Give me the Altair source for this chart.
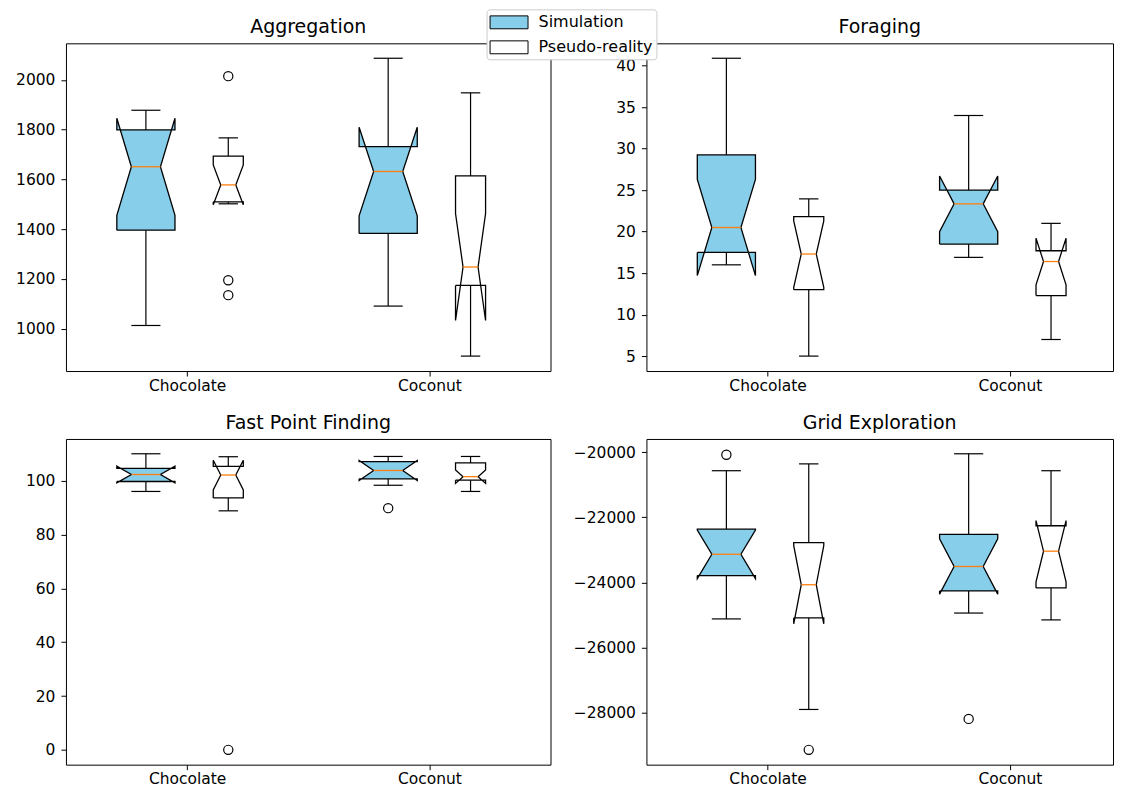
import altair as alt
import pandas as pd

# ---------------- data ----------------
GROUPS = ["Chocolate", "Coconut"]
SERIES = ["Simulation", "Pseudo-reality"]
# box order: Chocolate/Simulation, Chocolate/Pseudo-reality, Coconut/Simulation, Coconut/Pseudo-reality
BOX_GROUP = ["Chocolate", "Chocolate", "Coconut", "Coconut"]
BOX_SERIES = ["Simulation", "Pseudo-reality", "Simulation", "Pseudo-reality"]

# Aggregation
AGG_WLO = [1013, 1502, 1091, 890]
AGG_Q1 = [1396, 1510, 1383, 1174]
AGG_NLO = [1456, 1498, 1454, 1033]
AGG_MED = [1651, 1578, 1632, 1248]
AGG_NHI = [1846, 1658, 1810, 1463]
AGG_Q3 = [1799, 1694, 1732, 1614]
AGG_WHI = [1878, 1767, 2087, 1948]
AGG_FLIER_BOX = [1, 1, 1]
AGG_FLIER_VAL = [2015, 1195, 1135]
AGG_YTICKS = [1000, 1200, 1400, 1600, 1800, 2000]
AGG_YLIM = [830, 2147]

# Foraging
FOR_WLO = [16.0, 5.0, 16.9, 7.0]
FOR_Q1 = [17.5, 13.0, 18.5, 12.3]
FOR_NLO = [14.7, 13.3, 20.0, 13.6]
FOR_MED = [20.5, 17.3, 23.35, 16.4]
FOR_NHI = [26.3, 21.3, 26.7, 19.2]
FOR_Q3 = [29.25, 21.8, 25.0, 17.7]
FOR_WHI = [40.9, 23.95, 34.0, 21.0]
FOR_FLIER_BOX = []
FOR_FLIER_VAL = []
FOR_YTICKS = [5, 10, 15, 20, 25, 30, 35, 40]
FOR_YLIM = [3.2, 42.7]

# Fast Point Finding
FPF_WLO = [96.0, 88.8, 98.3, 96.0]
FPF_Q1 = [99.7, 93.6, 100.7, 100.2]
FPF_NLO = [99.2, 96.6, 100.1, 99.0]
FPF_MED = [102.3, 102.1, 103.8, 101.5]
FPF_NHI = [105.4, 107.6, 107.5, 104.0]
FPF_Q3 = [104.6, 105.3, 107.1, 106.6]
FPF_WHI = [110.0, 108.9, 109.0, 109.0]
FPF_FLIER_BOX = [1, 2]
FPF_FLIER_VAL = [0.0, 89.8]
FPF_YTICKS = [0, 20, 40, 60, 80, 100]
FPF_YLIM = [-5.5, 115.5]

# Grid Exploration
GRID_WLO = [-25120, -27900, -24940, -25150]
GRID_Q1 = [-23790, -25090, -24260, -24170]
GRID_NLO = [-23880, -25270, -24360, -23980]
GRID_MED = [-23135, -24070, -23510, -23040]
GRID_NHI = [-22390, -22870, -22660, -22100]
GRID_Q3 = [-22365, -22780, -22525, -22260]
GRID_WHI = [-20570, -20360, -20050, -20570]
GRID_FLIER_BOX = [0, 1, 2]
GRID_FLIER_VAL = [-20080, -29140, -28190]
GRID_YTICKS = [-28000, -26000, -24000, -22000, -20000]
GRID_YLIM = [-29595, -19595]

# ---------------- style / layout ----------------
FILL_COLORS = ["#87ceeb", "#ffffff"]
MEDIAN_COLOR = "#ff7f0e"
OFFSET = 0.17
HALF_W = {"Simulation": 0.12, "Pseudo-reality": 0.062}
CAP_W = {"Simulation": 0.06, "Pseudo-reality": 0.04}
FONT = "DejaVu Sans"

LEFT_W, RIGHT_W = 485, 467
TOP_H, BOT_H = 328, 326
PX_PER_UNIT = LEFT_W / 2.0
RIGHT_XMAX = 0.5 + RIGHT_W / PX_PER_UNIT

LABEL_EXPR = "[" + ",".join("'%s'" % g for g in GROUPS) + "][datum.value - 1]"


def build_tables(stats, fl_box, fl_val):
    wlo, q1, nlo, med, nhi, q3, whi = stats
    poly, boxes = [], []
    for i in range(len(BOX_GROUP)):
        s = BOX_SERIES[i]
        pos = GROUPS.index(BOX_GROUP[i]) + 1 + (-OFFSET if s == SERIES[0] else OFFSET)
        hw, cw = HALF_W[s], CAP_W[s]
        L, R, CL, CR = pos - hw, pos + hw, pos - hw / 2, pos + hw / 2
        verts = [(L, q1[i]), (R, q1[i]), (R, nlo[i]), (CR, med[i]), (R, nhi[i]),
                 (R, q3[i]), (L, q3[i]), (L, nhi[i]), (CL, med[i]), (L, nlo[i]), (L, q1[i])]
        for k, (x, y) in enumerate(verts):
            poly.append(dict(box=i, k=k, x=x, y=y, series=s))
        boxes.append(dict(box=i, series=s, pos=pos, capL=pos - cw, capR=pos + cw,
                          medL=CL, medR=CR, wlo=wlo[i], q1=q1[i], med=med[i],
                          q3=q3[i], whi=whi[i]))
    fl = [dict(x=boxes[b]["pos"], y=v) for b, v in zip(fl_box, fl_val)]
    return pd.DataFrame(poly), pd.DataFrame(boxes), pd.DataFrame(fl, columns=["x", "y"])


LEGEND = alt.Legend(
    title=None, orient="none", legendX=421, legendY=-34,
    symbolType="M-1,-0.68H3V0.68H-1Z", symbolSize=361,
    symbolStrokeColor="black", symbolStrokeWidth=1, symbolOpacity=1,
    labelFont=FONT, labelFontSize=16, labelColor="black", labelOffset=29,
    rowPadding=6, padding=3, strokeColor="#cccccc", fillColor="white",
    cornerRadius=3,
)


def panel(title, stats, fl_box, fl_val, ylim, yticks, xmax, width, height):
    poly, boxes, fl = build_tables(stats, fl_box, fl_val)
    xs = alt.Scale(domain=[0.5, xmax], nice=False, zero=False)
    ys = alt.Scale(domain=ylim, nice=False, zero=False)
    xax = alt.Axis(values=[1, 2], labelExpr=LABEL_EXPR, title=None, labelPadding=2)
    yax = alt.Axis(values=yticks, format="d", title=None)

    def X(f):
        return alt.X(f, scale=xs, axis=xax)

    def Y(f):
        return alt.Y(f, scale=ys, axis=yax)

    bc = alt.Chart(boxes)
    whisk_lo = bc.mark_rule(color="black", strokeWidth=1.2).encode(x=X("pos:Q"), y=Y("q1:Q"), y2="wlo:Q")
    whisk_hi = bc.mark_rule(color="black", strokeWidth=1.2).encode(x=X("pos:Q"), y=Y("q3:Q"), y2="whi:Q")
    cap_lo = bc.mark_rule(color="black", strokeWidth=1.2).encode(x=X("capL:Q"), x2="capR:Q", y=Y("wlo:Q"))
    cap_hi = bc.mark_rule(color="black", strokeWidth=1.2).encode(x=X("capL:Q"), x2="capR:Q", y=Y("whi:Q"))
    box = alt.Chart(poly).mark_line(stroke="black", strokeWidth=1.3, strokeJoin="miter").encode(
        x=X("x:Q"), y=Y("y:Q"), order="k:Q", detail="box:N",
        fill=alt.Fill("series:N", scale=alt.Scale(domain=SERIES, range=FILL_COLORS), legend=LEGEND),
    )
    median = bc.mark_rule(color=MEDIAN_COLOR, strokeWidth=1.3).encode(x=X("medL:Q"), x2="medR:Q", y=Y("med:Q"))
    layers = [whisk_lo, whisk_hi, cap_lo, cap_hi, box, median]
    if len(fl):
        fliers = alt.Chart(fl).mark_point(shape="circle", filled=False, color="black", size=85,
                                          strokeWidth=1.2, opacity=1).encode(x=X("x:Q"), y=Y("y:Q"))
        layers.append(fliers)
    return alt.layer(*layers).properties(title=title, width=width, height=height)


tl = panel("Aggregation", [AGG_WLO, AGG_Q1, AGG_NLO, AGG_MED, AGG_NHI, AGG_Q3, AGG_WHI],
           AGG_FLIER_BOX, AGG_FLIER_VAL, AGG_YLIM, AGG_YTICKS, 2.5, LEFT_W, TOP_H)
tr = panel("Foraging", [FOR_WLO, FOR_Q1, FOR_NLO, FOR_MED, FOR_NHI, FOR_Q3, FOR_WHI],
           FOR_FLIER_BOX, FOR_FLIER_VAL, FOR_YLIM, FOR_YTICKS, RIGHT_XMAX, RIGHT_W, TOP_H)
bl = panel("Fast Point Finding", [FPF_WLO, FPF_Q1, FPF_NLO, FPF_MED, FPF_NHI, FPF_Q3, FPF_WHI],
           FPF_FLIER_BOX, FPF_FLIER_VAL, FPF_YLIM, FPF_YTICKS, 2.5, LEFT_W, BOT_H)
br = panel("Grid Exploration", [GRID_WLO, GRID_Q1, GRID_NLO, GRID_MED, GRID_NHI, GRID_Q3, GRID_WHI],
           GRID_FLIER_BOX, GRID_FLIER_VAL, GRID_YLIM, GRID_YTICKS, RIGHT_XMAX, RIGHT_W, BOT_H)

chart = alt.concat(
    tl, tr, bl, br, columns=2, bounds="flush",
    spacing={"row": 68, "column": 96},
).properties(
    padding={"left": 7, "top": 0, "right": 0, "bottom": 0},
    background="white",
).configure_view(
    stroke="black", strokeWidth=1,
).configure_axis(
    grid=False, domain=False, tickColor="black", tickSize=5, tickWidth=1,
    labelColor="black", labelFont=FONT, labelFontSize=15.5, labelPadding=6,
).configure_title(
    font=FONT, fontSize=19, fontWeight="normal", color="black", offset=6, anchor="middle",
)

chart.save("out.html", embed_options={"renderer": "svg", "actions": False})
